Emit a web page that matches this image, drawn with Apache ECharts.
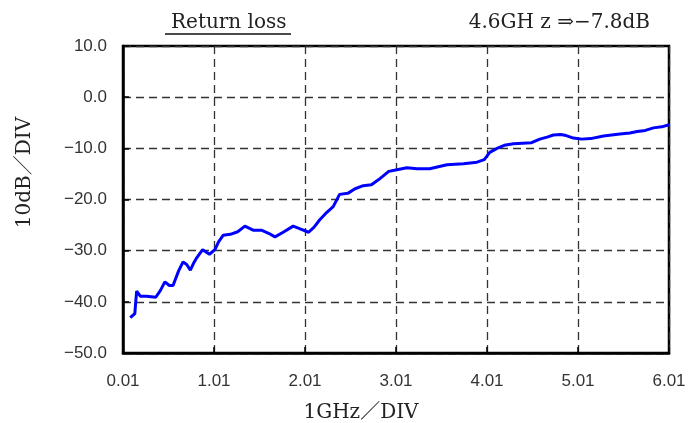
<!DOCTYPE html>
<html>
<head>
<meta charset="utf-8">
<script src="https://cdn.jsdelivr.net/npm/echarts@6/dist/echarts.min.js"></script>
<style>
html,body{margin:0;padding:0;background:#fff;}
#chart{width:689px;height:423px;}
</style>
</head>
<body>
<div id="chart"></div>
<script>
// Frequency (GHz) and return loss (dB)
var freqGHz = [0.09, 0.14, 0.15, 0.16, 0.20, 0.27, 0.37, 0.42, 0.47, 0.52, 0.56, 0.62, 0.67, 0.71, 0.75, 0.79, 0.82, 0.885, 0.96, 1.02, 1.06, 1.11, 1.19, 1.27, 1.35, 1.44, 1.53, 1.61, 1.68, 1.77, 1.88, 1.95, 2.05, 2.11, 2.17, 2.25, 2.32, 2.39, 2.48, 2.56, 2.65, 2.74, 2.82, 2.93, 3.02, 3.13, 3.24, 3.38, 3.57, 3.75, 3.90, 3.98, 4.04, 4.12, 4.20, 4.30, 4.40, 4.50, 4.59, 4.67, 4.74, 4.82, 4.88, 4.96, 5.05, 5.15, 5.29, 5.47, 5.58, 5.66, 5.75, 5.84, 5.93, 6.01];
var returnLossDb = [-43.1, -42.3, -40.0, -37.9, -38.9, -38.9, -39.1, -37.8, -36.1, -36.8, -36.8, -34.0, -32.2, -32.7, -33.8, -32.3, -31.4, -29.8, -30.7, -29.8, -28.3, -27.0, -26.8, -26.3, -25.2, -26.0, -26.0, -26.6, -27.3, -26.4, -25.2, -25.7, -26.4, -25.4, -24.0, -22.5, -21.4, -19.0, -18.8, -17.9, -17.3, -17.1, -16.1, -14.5, -14.2, -13.8, -14.0, -14.0, -13.2, -13.0, -12.7, -12.2, -10.8, -10.0, -9.4, -9.1, -9.0, -8.9, -8.2, -7.8, -7.4, -7.3, -7.5, -8.0, -8.2, -8.1, -7.6, -7.2, -7.0, -6.7, -6.5, -6.0, -5.8, -5.4];
var xStartGHz = 0.01;         // first x tick label
var xTickCount = 6;           // 1 GHz per division
var yMin = -50, yMax = 10, yStep = 10;
var titleText = 'Return loss';
var markerText = '4.6GH z \u21D2\u22127.8dB';
var xName = '1GHz\uFF0FDIV';
var yName = '10dB\uFF0FDIV';

var chart = echarts.init(document.getElementById('chart'), null, {renderer: 'canvas'});
var seriesData = freqGHz.map(function (f, i) { return [f - xStartGHz, returnLossDb[i]]; });
var serif = '"DejaVu Serif", "Liberation Serif", "Noto Sans CJK JP", serif';
var sans = '"Liberation Sans", Arial, sans-serif';
var split = {show: true, lineStyle: {color: '#333', width: 1.3, type: [8, 5]}};

chart.setOption({
  animation: false,
  backgroundColor: '#fff',
  title: [
    {text: titleText, left: 166, top: 8, textStyle: {fontFamily: serif, fontWeight: 'normal', fontSize: 20, color: '#222'}},
    {text: markerText, right: 34, top: 8, textStyle: {fontFamily: serif, fontWeight: 'normal', fontSize: 20, color: '#222'}}
  ],
  graphic: [
    {type: 'line', shape: {x1: 165, y1: 34, x2: 291, y2: 34}, style: {stroke: '#111', lineWidth: 1.3}}
  ],
  grid: {left: 123, right: 20, top: 46, bottom: 70, outerBoundsMode: 'none', containLabel: false, show: true, borderColor: '#000', borderWidth: 2.5, backgroundColor: 'transparent'},
  xAxis: {
    type: 'value', min: 0, max: xTickCount, interval: 1,
    name: xName, nameLocation: 'middle', nameGap: 50,
    nameTextStyle: {fontFamily: serif, fontSize: 20, color: '#222', padding: [0, 70, 0, 0]},
    axisLine: {show: true, onZero: false, lineStyle: {color: '#000', width: 2.5}},
    axisTick: {show: true, inside: true, length: 6, lineStyle: {color: '#000', width: 1.5}},
    axisLabel: {margin: 20, fontFamily: sans, fontSize: 17, color: '#333',
      formatter: function (v) { return (v + xStartGHz).toFixed(2); }},
    splitLine: split
  },
  yAxis: {
    type: 'value', min: yMin, max: yMax, interval: yStep,
    name: yName, nameLocation: 'middle', nameGap: 88, nameRotate: 90,
    nameTextStyle: {fontFamily: serif, fontSize: 20, color: '#222', padding: [0, 0, 0, 54]},
    axisLine: {show: true, onZero: false, lineStyle: {color: '#000', width: 2.5}},
    axisTick: {show: true, inside: true, length: 6, lineStyle: {color: '#000', width: 1.5}},
    axisLabel: {margin: 16, fontFamily: sans, fontSize: 17, color: '#333',
      formatter: function (v) { return (v < 0 ? '\u2212' + (-v).toFixed(1) : v.toFixed(1)); }},
    splitLine: split
  },
  series: [{
    type: 'line', data: seriesData, showSymbol: false, smooth: false,
    lineStyle: {color: '#0000ff', width: 3}, itemStyle: {color: '#0000ff'}
  }]
});
</script>
</body>
</html>
